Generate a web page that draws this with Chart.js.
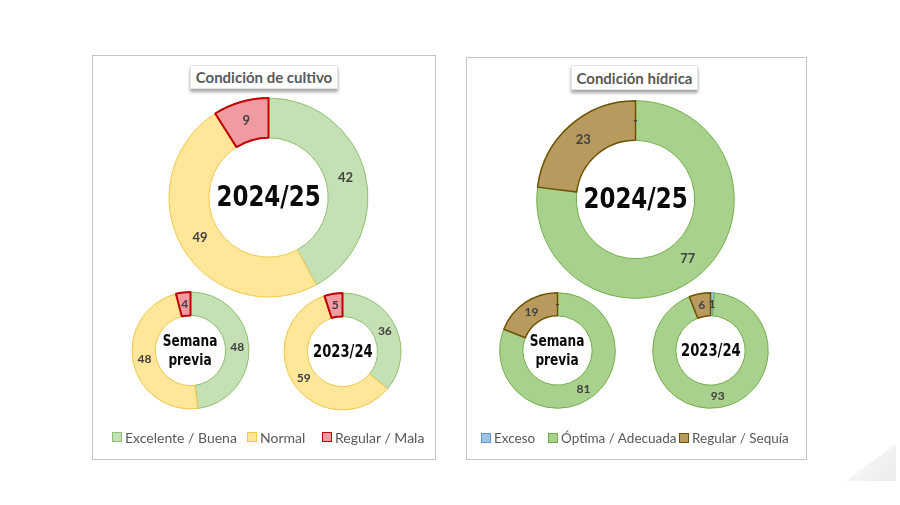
<!DOCTYPE html>
<html><head><meta charset="utf-8">
<script src="https://cdn.jsdelivr.net/npm/chart.js@4/dist/chart.umd.min.js"></script>
<style>
html,body{margin:0;padding:0;background:#fff;}
body{width:900px;height:505px;position:relative;overflow:hidden;font-family:Lato,"DejaVu Sans",sans-serif;}
.panel{position:absolute;border:1px solid #c4c4c4;box-sizing:border-box;}
.title{position:absolute;background:#fff;border:1px solid #e4e4e4;box-shadow:0 3px 3px rgba(0,0,0,0.35);color:#595959;font-weight:bold;font-size:15px;display:flex;align-items:center;justify-content:center;box-sizing:border-box;white-space:nowrap;}
.chart{position:absolute;}
.chart canvas{position:absolute;left:0;top:0;}
.center{position:absolute;left:0;top:0;width:100%;height:100%;display:flex;align-items:center;justify-content:center;pointer-events:none;}
.center span{display:block;text-align:center;font-family:"DejaVu Sans",sans-serif;font-weight:bold;color:#0a0a0a;}
.leg{position:absolute;display:flex;align-items:center;font-size:14px;color:#595959;white-space:nowrap;height:16px;}
.leg i{display:inline-block;width:8px;height:8px;border:1px solid;margin-right:3px;}
.corner{position:absolute;left:846px;top:444px;width:50px;height:37px;clip-path:polygon(0 100%,100% 0,100% 100%);background:linear-gradient(135deg,#fbfbfc,#ececef);}
</style>
</head>
<body>
<div class="panel" style="left:92px;top:55px;width:344px;height:405px;"></div>
<div class="panel" style="left:466px;top:57px;width:341px;height:403px;"></div>
<div class="title" style="left:190px;top:65px;width:148px;height:24px;">Condición de cultivo</div>
<div class="title" style="left:571px;top:65px;width:127px;height:25px;">Condición hídrica</div>
<div id="charts"></div>
<div id="legends"></div>
<div class="corner"></div>
<script>
// ---- Data ----
const cropCategories = ['Excelente / Buena', 'Normal', 'Regular / Mala'];
const crop2024 = [42, 49, 9];
const cropPrevWeek = [48, 48, 4];
const crop2023 = [36, 59, 5];

const waterCategories = ['Exceso', 'Óptima / Adecuada', 'Regular / Sequía'];
const water2024 = [0, 77, 23];
const waterPrevWeek = [0, 81, 19];
const water2023 = [1, 93, 6];

const centerLabels = ['2024/25', 'Semana<br>previa', '2023/24'];

// ---- Styles ----
const cropFill = ['#c5e0b4', '#ffe699', '#f09aa2'];
const cropBorder = ['#8fbf70', '#f0c84a', '#c00000'];
const cropBorderW = [1, 1, 2];
const waterFill = ['#9dc3e6', '#a9d18e', '#b89a5f'];
const waterBorder = ['#5b9bd5', '#70ad47', '#6b5200'];
const waterBorderW = [1, 1, 1.5];

const sliceLabels = {
  id: 'sliceLabels',
  afterDatasetsDraw(chart) {
    const ctx = chart.ctx;
    const meta = chart.getDatasetMeta(0);
    const data = chart.data.datasets[0].data;
    const size = chart.options.plugins.sliceLabels.size;
    ctx.save();
    ctx.font = 'bold ' + size + 'px Lato, sans-serif';
    ctx.fillStyle = '#404040';
    ctx.textAlign = 'center';
    ctx.textBaseline = 'middle';
    meta.data.forEach((arc, i) => {
      const p = arc.tooltipPosition(true);
      ctx.fillText(data[i] === 0 ? '-' : String(data[i]), p.x, p.y);
    });
    ctx.restore();
  }
};

function makeDoughnut(left, top, size, labels, values, fill, border, bw, centerHtml, fontSize, scale, labelSize) {
  const wrap = document.createElement('div');
  wrap.className = 'chart';
  wrap.style.cssText = `left:${left}px;top:${top}px;width:${size}px;height:${size}px;`;
  const cv = document.createElement('canvas');
  cv.width = size; cv.height = size;
  wrap.appendChild(cv);
  const c = document.createElement('div');
  c.className = 'center';
  const s = document.createElement('span');
  s.style.fontSize = fontSize + 'px';
  s.style.lineHeight = (fontSize * 1.15) + 'px';
  s.style.transform = `scaleX(${scale})`;
  s.innerHTML = centerHtml;
  c.appendChild(s);
  wrap.appendChild(c);
  document.getElementById('charts').appendChild(wrap);
  new Chart(cv, {
    type: 'doughnut',
    data: { labels: labels, datasets: [{ data: values, backgroundColor: fill, borderColor: border, borderWidth: bw }] },
    options: {
      responsive: false, animation: false, cutout: '60%',
      layout: { padding: 0 },
      plugins: { legend: { display: false }, tooltip: { enabled: false }, sliceLabels: { size: labelSize } }
    },
    plugins: [sliceLabels]
  });
}

makeDoughnut(168, 97, 201, cropCategories, crop2024, cropFill, cropBorder, cropBorderW, centerLabels[0], 28, 0.82, 13);
makeDoughnut(131, 291, 119, cropCategories, cropPrevWeek, cropFill, cropBorder, cropBorderW, centerLabels[1], 16, 0.76, 12);
makeDoughnut(283, 292, 119, cropCategories, crop2023, cropFill, cropBorder, cropBorderW, centerLabels[2], 18, 0.73, 12);
makeDoughnut(536, 100, 199, waterCategories, water2024, waterFill, waterBorder, waterBorderW, centerLabels[0], 28, 0.82, 13);
makeDoughnut(499, 292, 117, waterCategories, waterPrevWeek, waterFill, waterBorder, waterBorderW, centerLabels[1], 16, 0.76, 12);
makeDoughnut(652, 292, 117, waterCategories, water2023, waterFill, waterBorder, waterBorderW, centerLabels[2], 18, 0.73, 12);

function legendItem(x, y, text, fill, border, fs) {
  const d = document.createElement('div');
  d.className = 'leg';
  d.style.left = x + 'px';
  d.style.top = (y - 8) + 'px';
  d.style.fontSize = fs + 'px';
  d.innerHTML = `<i style="background:${fill};border-color:${border}"></i>${text}`;
  document.getElementById('legends').appendChild(d);
}
const cropLegX = [112, 247, 322];
const waterLegX = [481, 548, 679];
cropCategories.forEach((t, i) => legendItem(cropLegX[i], 437, t, cropFill[i], cropBorder[i], 14));
waterCategories.forEach((t, i) => legendItem(waterLegX[i], 438, t, waterFill[i], waterBorder[i], 13.5));
</script>
</body></html>
